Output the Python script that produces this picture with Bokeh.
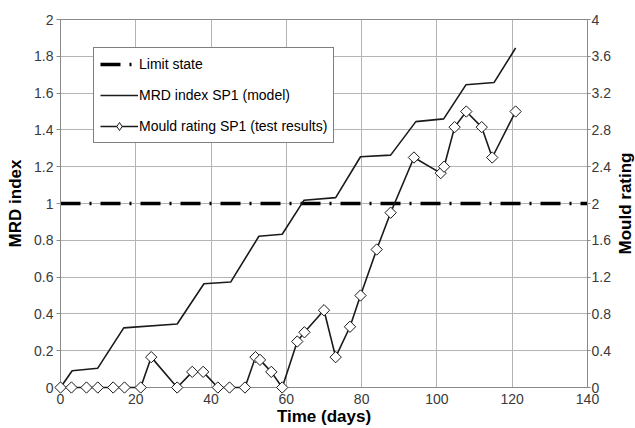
import math
from bokeh.plotting import figure
from bokeh.models import Range1d, LinearAxis, FixedTicker, Legend, LegendItem
from bokeh.core.properties import value
from bokeh.embed import file_html
from bokeh.resources import INLINE

# ---- data ----
model_days = [0, 3.1, 9.9, 16.8, 31.0, 38.1, 45.2, 52.7, 58.9, 64.7, 73.1, 79.7,
              87.7, 94.4, 101.8, 107.7, 115.2, 120.9]
model_mrd = [0, 0.091, 0.105, 0.324, 0.345, 0.564, 0.573, 0.822, 0.833, 1.018,
             1.032, 1.254, 1.263, 1.445, 1.46, 1.645, 1.658, 1.845]

test_days = [0, 2.9, 6.9, 9.9, 14, 17, 21.3, 24.1, 31, 35, 37.9, 41.8, 44.9, 49,
             51.8, 53, 56, 58.9, 62.9, 64.8, 70, 73.1, 76.9, 79.7, 84, 87.7,
             93.9, 101, 101.9, 104.7, 107.8, 111.9, 114.7, 120.9]
test_rating = [0, 0, 0, 0, 0, 0, 0, 0.33, 0, 0.17, 0.17, 0, 0, 0,
               0.33, 0.3, 0.17, 0, 0.5, 0.6, 0.84, 0.33, 0.66, 1.0, 1.5, 1.9,
               2.5, 2.33, 2.4, 2.83, 3.0, 2.83, 2.5, 3.0]

limit_days = [0, 140]
limit_value = [1.0, 1.0]

x_ticks = [0, 20, 40, 60, 80, 100, 120, 140]
x_tick_labels = ["0", "20", "40", "60", "80", "100", "120", "140"]
left_ticks = [0, 0.2, 0.4, 0.6, 0.8, 1, 1.2, 1.4, 1.6, 1.8, 2]
left_tick_labels = ["0", "0.2", "0.4", "0.6", "0.8", "1", "1.2", "1.4", "1.6", "1.8", "2"]
right_ticks = [0, 0.4, 0.8, 1.2, 1.6, 2, 2.4, 2.8, 3.2, 3.6, 4]
right_tick_labels = ["0", "0.4", "0.8", "1.2", "1.6", "2", "2.4", "2.8", "3.2", "3.6", "4"]

X_MIN, X_MAX = 0, 140
Y_MIN, Y_MAX = 0, 2
R_MIN, R_MAX = 0, 4

FONT = "Liberation Sans"
GRID = "#b4b4b4"
AXIS = "#8a8a8a"
TICKTXT = "#3a3a3a"

p = figure(width=635, height=428, output_backend="svg", toolbar_location=None,
           x_range=Range1d(X_MIN, X_MAX), y_range=Range1d(Y_MIN, Y_MAX),
           min_border_left=60, min_border_right=48, min_border_top=19,
           min_border_bottom=41)
p.extra_y_ranges = {"rating": Range1d(R_MIN, R_MAX)}
p.outline_line_color = AXIS
p.background_fill_color = "white"
p.border_fill_color = "white"

right_axis = LinearAxis(y_range_name="rating")
p.add_layout(right_axis, "right")


def style_axis(ax, ticks, labels):
    ax.ticker = FixedTicker(ticks=ticks)
    ax.major_label_overrides = {t: l for t, l in zip(ticks, labels)}
    ax.minor_tick_line_color = None
    ax.major_tick_in = 0
    ax.major_tick_out = 4
    ax.major_tick_line_color = AXIS
    ax.axis_line_color = AXIS
    ax.major_label_text_font = FONT
    ax.major_label_text_font_size = "14px"
    ax.major_label_text_color = TICKTXT
    ax.axis_label_text_font = FONT
    ax.axis_label_text_font_size = "17px"
    ax.axis_label_text_font_style = "bold"
    ax.axis_label_text_color = "black"


style_axis(p.xaxis[0], x_ticks, x_tick_labels)
style_axis(p.yaxis[0], left_ticks, left_tick_labels)
style_axis(right_axis, right_ticks, right_tick_labels)

p.xaxis[0].axis_label = "Time (days)"
p.xaxis[0].major_tick_out = 0
p.xaxis[0].major_tick_line_color = None
p.xaxis[0].major_label_standoff = 6
p.xaxis[0].axis_label_standoff = 0
p.yaxis[0].axis_label = "MRD index"
p.yaxis[0].major_label_standoff = 3
p.yaxis[0].axis_label_standoff = 6
right_axis.major_tick_out = 3
right_axis.major_label_standoff = 1

# right-hand axis title, reading bottom-to-top as in the reference;
# anchored at the frame's right edge / vertical middle, pushed out in pixels
p.text(x=[X_MAX], y=[(Y_MIN + Y_MAX) / 2], text=["Mould rating"],
       x_offset=38, angle=math.pi / 2, text_align="center",
       text_baseline="middle", text_font=value(FONT), text_font_size="17px",
       text_font_style="bold", text_color="black", level="overlay")

p.xgrid.ticker = FixedTicker(ticks=x_ticks)
p.ygrid.ticker = FixedTicker(ticks=left_ticks)
p.xgrid.grid_line_color = GRID
p.ygrid.grid_line_color = GRID
p.xgrid.grid_line_width = 1
p.ygrid.grid_line_width = 1

limit_r = p.line(limit_days, limit_value, line_color="black", line_width=3.5,
                 line_dash="20 9 2 9", line_cap="butt")
model_r = p.line(model_days, model_mrd, line_color="#1a1a1a", line_width=1.6)
test_line = p.line(test_days, test_rating, y_range_name="rating",
                   line_color="#1a1a1a", line_width=1.6, level="overlay")
# diamond glyph used for the legend key (hidden under the rotated squares)
test_key = p.scatter(test_days, test_rating, y_range_name="rating", marker="diamond",
                     size=9.5, fill_color="white", line_color="#1a1a1a",
                     line_width=1, level="overlay")
test_pts = p.scatter(test_days, test_rating, y_range_name="rating", marker="square",
                     angle=math.pi / 4, size=8, fill_color="white",
                     line_color="#1a1a1a", line_width=1, level="overlay")

legend = Legend(items=[
    LegendItem(label="Limit state", renderers=[limit_r]),
    LegendItem(label="MRD index SP1 (model)", renderers=[model_r]),
    LegendItem(label="Mould rating SP1 (test results)", renderers=[test_line, test_key]),
], location=(33, 244))
legend.border_line_color = "black"
legend.border_line_width = 1
legend.background_fill_color = "white"
legend.background_fill_alpha = 1
legend.padding = 6
legend.spacing = 11
legend.margin = 0
legend.glyph_width = 38
legend.glyph_height = 20
legend.label_height = 20
legend.label_standoff = 1
legend.label_text_font = FONT
legend.label_text_font_size = "14px"
legend.label_text_color = "black"
p.add_layout(legend)

open("out.html", "w").write(file_html(p, INLINE))
